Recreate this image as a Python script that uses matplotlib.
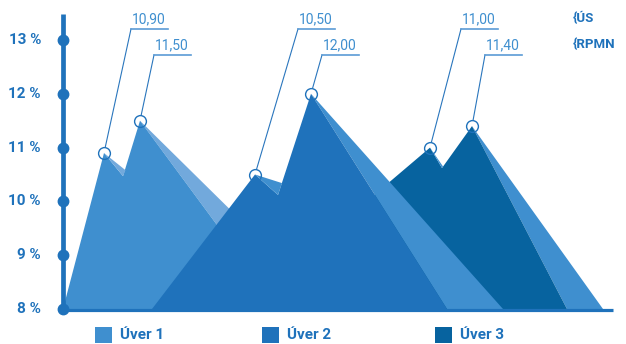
import matplotlib
matplotlib.use("Agg")
import matplotlib.pyplot as plt
from matplotlib.patches import Polygon, Rectangle
import numpy as np

# --- data ----------------------------------------------------------------
series = ["Úver 1", "Úver 2", "Úver 3"]
peak_vals = [[10.90, 11.50], [10.50, 12.00], [11.00, 11.40]]
yticks = [8, 9, 10, 11, 12, 13]
ytick_labels = ["8 %", "9 %", "10 %", "11 %", "12 %", "13 %"]
side_notes = ["{ÚS", "{RPMN"]

# mountain outlines (x in pixel-like units along the base)
start_x = [63, 152, 240]
peak_x = [[104, 140], [255, 311], [430, 472]]
dip_x = [123, 278, 442]
dip_val = [10.47, 10.12, 10.62]
notch_x = [125.5, 282, 443]
notch_val = [10.58, 10.34, 10.65]
end_x = [279, 447, 567]
shade_end_x = [331, 503, 603]

# --- style / layout -------------------------------------------------------
fill = ["#3f8fcf", "#1f72bb", "#07639f"]
shade = ["#72a9dc", "#3f8fcf", "#3f8fcf"]
AXC = "#1f72bb"
PX = 53.8          # pixels per percent
BASE_PX = 309      # pixel row of 8 %

def v(py):          # pixel row -> value
    return 8 + (BASE_PX - py) / PX

plt.rcParams["font.family"] = ["Roboto", "DejaVu Sans"]
fig = plt.figure(figsize=(6.26, 3.44), dpi=100)
ax = fig.add_axes([0, 0, 1, 1])
ax.set_xlim(0, 626)
ax.set_ylim(v(344), v(0))
ax.axis("off")

# mountains: back to front
for i in [2, 0, 1]:
    p1, p2 = peak_vals[i]
    x1, x2 = peak_x[i]
    # shaded right face of the big peak
    ax.add_patch(Polygon([(x2, p2), (shade_end_x[i], 8), (end_x[i], 8)],
                         closed=True, fc=shade[i], ec="none", zorder=2))
    body = [(start_x[i], 8), (x1, p1), (dip_x[i], dip_val[i]), (x2, p2), (end_x[i], 8)]
    ax.add_patch(Polygon(body, closed=True, fc=fill[i], ec="none", zorder=2))
    # small face on the first peak
    ax.add_patch(Polygon([(x1, p1), (notch_x[i], notch_val[i]), (dip_x[i], dip_val[i])],
                         closed=True, fc=shade[i], ec="none", zorder=2))

# axis
ax.plot([63, 63], [v(310), v(14)], color=AXC, lw=3.4, solid_capstyle="butt", zorder=4)
ax.plot([63, 613], [v(310.5), v(310.5)], color=AXC, lw=2.3, solid_capstyle="butt", zorder=4)
ax.plot([63] * len(yticks), yticks, "o", color=AXC, ms=7.5, zorder=5)
for t, lab in zip(yticks, ytick_labels):
    ax.text(41, t, lab, ha="right", va="center", fontsize=11, fontweight="bold", color=AXC)

# peak labels with leader lines
elbow_x = [[131, 154], [298, 322], [461, 485]]
elbow_y = [29, 55]
ul_len = 37
R = 6.0
for i in range(3):
    for j in range(2):
        px, pv = peak_x[i][j], peak_vals[i][j]
        ex, ey = elbow_x[i][j], v(elbow_y[j])
        ax.plot([px], [pv], "o", mfc="none", mec=AXC, mew=1.0, ms=8.5, zorder=6)
        # start the leader at the circle edge (in pixel space)
        dx, dy = ex - px, (ey - pv) * PX
        d = np.hypot(dx, dy)
        sx, sy = px + dx / d * R, pv + dy / d * R / PX
        ax.plot([sx, ex], [sy, ey], color="#2a76bd", lw=0.8, zorder=6)
        ax.plot([ex, ex + ul_len], [ey, ey], color="#5b9bd5", lw=1.2, zorder=6)
        ax.text(ex + 0.5, ey + 0.05, f"{pv:.2f}".replace(".", ","), ha="left", va="bottom",
                fontsize=10, color="#3f8fcf", zorder=6)

# side notes
for note, py in zip(side_notes, [19, 45]):
    ax.text(573, v(py), note, ha="left", va="center", fontsize=9.5,
            fontweight="bold", color=AXC)

# legend
sq_x = [95, 262, 435]
for name, c, x in zip(series, fill, sq_x):
    ax.add_patch(Rectangle((x, v(343)), 17, (343 - 327) / PX, fc=c, ec="none"))
    ax.text(x + 25, v(335), name, ha="left", va="center", fontsize=11,
            fontweight="bold", color=AXC)

fig.savefig("out.png", dpi=100)
